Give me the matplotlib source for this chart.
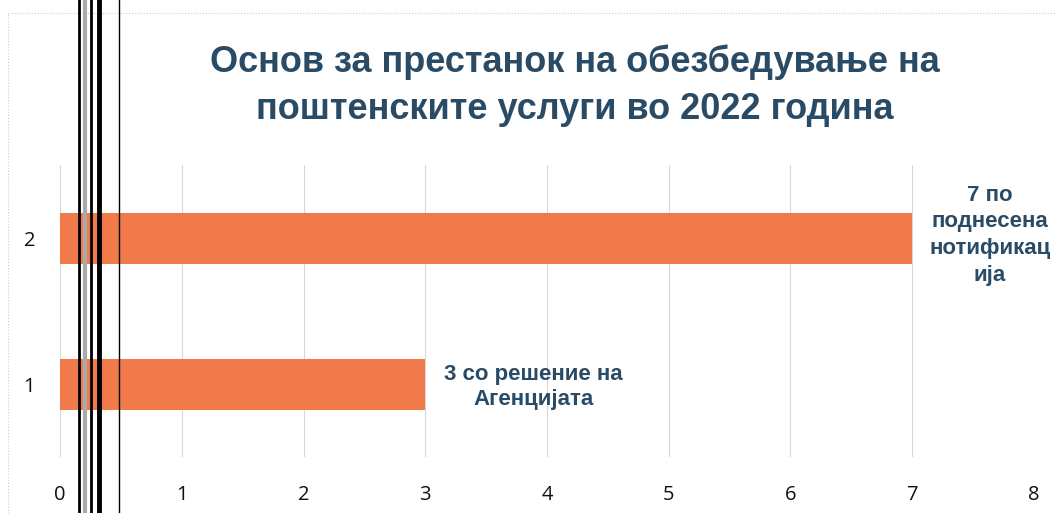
import matplotlib
matplotlib.use("Agg")
import matplotlib.pyplot as plt
from matplotlib.lines import Line2D

categories = [1, 2]
values = [3, 7]
bar_labels = ["3 со решение на\nАгенцијата", "7 по\nподнесена\nнотификац\nија"]
title = "Основ за престанок на обезбедување на\nпоштенските услуги во 2022 година"

bar_color = "#F07A4A"
text_color = "#2A4B66"
narrow = ["Liberation Sans", "DejaVu Sans"]

fig = plt.figure(figsize=(10.57, 5.13), dpi=100)
ax = fig.add_axes([0.057, 0.109, 0.921, 0.569])

ax.barh(categories, values, height=0.35, color=bar_color)

ax.set_xlim(0, 8)
ax.set_ylim(0.5, 2.5)
ax.set_xticks(range(0, 9))
ax.set_yticks(categories)
ax.grid(axis="x", color="#d8d8d8", linewidth=0.8)
ax.set_axisbelow(True)
for s in ax.spines.values():
    s.set_visible(False)
ax.tick_params(length=0, labelsize=14.5, colors="#111111", pad=20)
ax.tick_params(axis="y", pad=18)
for lab in ax.get_xticklabels() + ax.get_yticklabels():
    lab.set_fontfamily("Open Sans")

# data labels
ax.text(values[0] + 0.89, categories[0] - 0.02, bar_labels[0], ha="center", va="center",
        fontsize=16, fontweight="bold", color=text_color, family=narrow, linespacing=1.3)
ax.text(values[1] + 0.64, categories[1] + 0.02, bar_labels[1], ha="center", va="center",
        fontsize=16, fontweight="bold", color=text_color, family=narrow, linespacing=1.35)

fig.text(0.544, 0.833, title, ha="center", va="center", fontsize=26,
         fontweight="bold", color=text_color, family=narrow, linespacing=1.45)

# outer frame of the pasted chart
fig.add_artist(Line2D([0.008, 0.008], [0.0, 0.975], color="#cccccc", lw=0.8, ls=":"))
fig.add_artist(Line2D([0.008, 1.0], [0.975, 0.975], color="#cccccc", lw=0.8, ls=":"))

# scanner streaks
for x, w, c in [(0.0745, 2.0, "black"), (0.080, 3.0, "#aaaaaa"), (0.0865, 2.0, "black"),
                (0.0935, 3.5, "black"), (0.1130, 1.0, "black")]:
    fig.add_artist(Line2D([x, x], [0, 1], color=c, lw=w))

fig.savefig("out.png", dpi=100)
